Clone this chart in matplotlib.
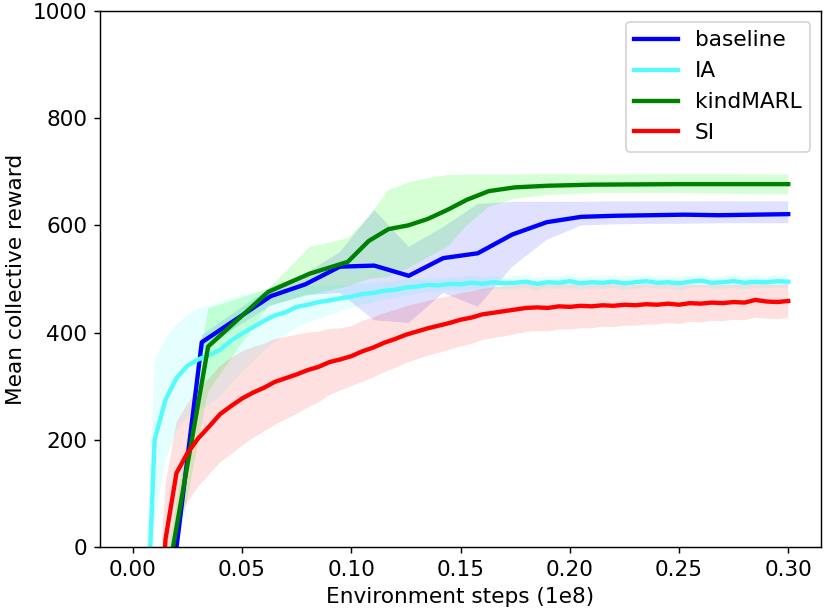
import numpy as np
import matplotlib
matplotlib.use("Agg")
import matplotlib.pyplot as plt

plt.rcParams["font.size"] = 12

# fine-grained runs (IA, SI) logged every 0.005e8 steps
fine_steps = np.round(np.arange(0, 0.3001, 0.005), 3)

ia_mean = [-600, -300, 200, 275, 315, 338, 350, 358, 368, 385,
           398, 410, 422, 432, 438, 448, 452, 457, 460, 464,
           467, 472, 474, 478, 480, 484, 486, 489, 488, 491,
           490, 493, 491, 494, 492, 493, 495, 491, 494, 493,
           496, 492, 494, 493, 495, 492, 494, 496, 493, 494,
           492, 495, 497, 493, 494, 496, 493, 495, 494, 496, 495]
ia_spread = [180, 170, 150, 115, 100, 95, 95, 92, 88, 80,
             72, 64, 56, 49, 43, 38, 34, 31, 28, 25,
             22, 20, 18, 17, 16, 15, 14, 13, 12, 12,
             12, 13, 12, 11, 12, 13, 12, 12, 11, 12,
             13, 12, 11, 12, 12, 13, 12, 11, 12, 12,
             13, 12, 12, 11, 12, 13, 12, 12, 11, 12, 12]

si_mean = [-900, -600, -300, 15, 138, 175, 203, 225, 248, 263,
           277, 288, 297, 308, 315, 322, 330, 336, 345, 350,
           356, 365, 372, 381, 388, 396, 402, 408, 413, 418,
           424, 428, 434, 437, 440, 443, 446, 447, 446, 449,
           448, 450, 449, 451, 450, 452, 451, 453, 452, 454,
           452, 455, 454, 456, 455, 457, 456, 461, 458, 457, 459]
si_spread = [100, 100, 100, 100, 95, 92, 90, 90, 90, 90,
             88, 85, 82, 80, 77, 74, 70, 66, 62, 58,
             56, 57, 56, 55, 54, 53, 52, 51, 51, 50,
             50, 49, 48, 47, 47, 46, 45, 44, 44, 43,
             42, 42, 41, 40, 40, 39, 38, 38, 37, 36,
             36, 35, 35, 34, 34, 33, 33, 33, 32, 32, 32]

# coarse runs
baseline_steps = np.linspace(0, 0.3, 20)
baseline_mean = [-700, -140, 382, 425, 468, 490, 523, 525, 506, 539,
                 548, 583, 606, 616, 618, 619, 620, 619, 620, 621]
baseline_upper = [-650, -100, 395, 440, 485, 510, 550, 629, 560, 597,
                  640, 644, 644, 644, 645, 645, 645, 645, 645, 645]
baseline_lower = [-750, -180, 365, 410, 450, 470, 474, 423, 418, 474,
                  448, 523, 573, 600, 602, 603, 603, 604, 604, 604]

kind_steps = [0.0, 0.015, 0.0345, 0.062, 0.081, 0.0984, 0.108, 0.117, 0.126,
              0.135, 0.144, 0.153, 0.163, 0.175, 0.19, 0.21, 0.25, 0.30]
kind_mean = [-600, -80, 374, 476, 510, 532, 571, 593, 600,
             612, 629, 648, 664, 671, 674, 676, 677, 677]
kind_upper = [-560, -40, 445, 482, 560, 576, 616, 666, 680,
              688, 694, 695, 695, 695, 696, 695, 696, 695]
kind_lower = [-640, -120, 290, 450, 470, 486, 500, 504, 520,
              540, 560, 600, 635, 650, 657, 660, 660, 658]

ia_mean = np.array(ia_mean)
ia_spread = np.array(ia_spread)
si_mean = np.array(si_mean)
si_spread = np.array(si_spread)

fig = plt.figure(figsize=(830 / 130, 614 / 130), dpi=130)
ax = fig.add_axes([100 / 830, 1 - 547 / 614, 721 / 830, 536 / 614])

lw = 2.4
ax.plot(baseline_steps, baseline_mean, color="blue", lw=lw, label="baseline")
ax.fill_between(baseline_steps, baseline_lower, baseline_upper, color="blue", alpha=0.12, lw=0)

ax.plot(fine_steps, ia_mean, color="#55fafa", lw=lw, label="IA")
ax.fill_between(fine_steps, ia_mean - ia_spread, ia_mean + ia_spread, color="cyan", alpha=0.1, lw=0)

ax.plot(kind_steps, kind_mean, color="green", lw=lw, label="kindMARL")
ax.fill_between(kind_steps, kind_lower, kind_upper, color="lime", alpha=0.16, lw=0)

ax.plot(fine_steps, si_mean, color="red", lw=lw, label="SI")
ax.fill_between(fine_steps, si_mean - si_spread, si_mean + si_spread, color="red", alpha=0.12, lw=0)

ax.set_xlim(-0.015, 0.315)
ax.set_ylim(0, 1000)
ax.set_xticks([0.0, 0.05, 0.10, 0.15, 0.20, 0.25, 0.30])
ax.set_xticklabels(["0.00", "0.05", "0.10", "0.15", "0.20", "0.25", "0.30"])
ax.set_yticks([0, 200, 400, 600, 800, 1000])
ax.set_xlabel("Environment steps (1e8)")
ax.set_ylabel("Mean collective reward")
ax.legend(loc="upper right")

fig.savefig("out.png", dpi=130)
